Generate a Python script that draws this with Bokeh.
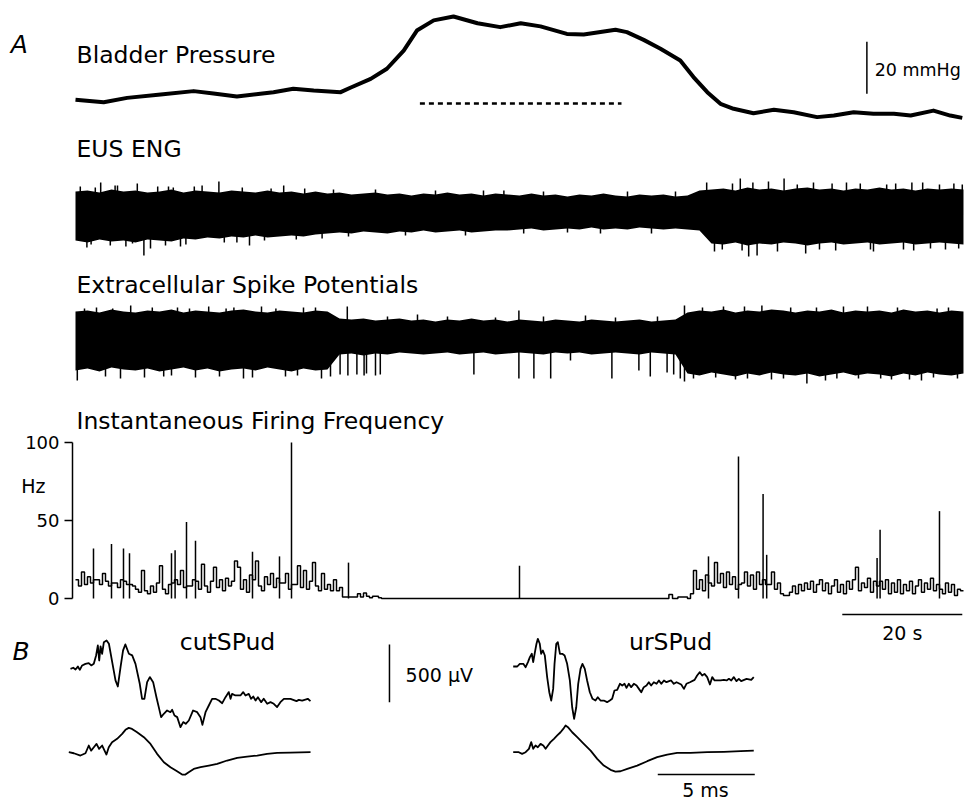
from bokeh.plotting import figure
from bokeh.models import Range1d, Label, FixedTicker, LinearAxis
from bokeh.layouts import column
from bokeh.embed import file_html
from bokeh.resources import INLINE

FONT = "DejaVu Sans"
W = 970

# ---------------- A: bladder pressure (s, mmHg) ----------------
pres_t = [0, 4.7, 8.6, 14.2, 19.7, 23.0, 26.9, 30.8, 33.0, 36.3, 39.7, 44.2, 45.8, 49.2,
          51.9, 54.7, 56.9, 59.7, 63.0, 67.0, 70.8, 74.2, 77.5, 81.9, 84.7, 87.5, 90.0,
          91.9, 94.7, 97.5, 100.8, 103.0, 105.3, 107.5, 109.7, 113.0, 116.4, 119.7,
          123.6, 126.4, 129.7, 133.0, 136.4, 139.2, 143.0, 145.8, 147.8]
pres_mmHg = [8.0, 7.0, 8.7, 10.0, 11.3, 10.4, 9.2, 10.3, 10.9, 12.2, 11.5, 10.9, 12.6, 16.0,
             19.9, 26.9, 34.6, 38.5, 40.0, 37.4, 35.9, 37.4, 36.2, 33.3, 33.1, 34.0, 34.9,
             34.0, 31.0, 27.6, 23.1, 16.7, 10.9, 6.4, 4.5, 2.8, 4.1, 3.2,
             1.3, 1.9, 3.2, 2.6, 2.6, 1.9, 3.8, 1.9, 1.0]
void_period_s = [57.4, 91.0]

# ---------------- A: EUS ENG envelope (2-s bins, a.u.) ----------------
env_dt = 2.0
eng_top = [24, 25, 23, 26, 24, 25, 23, 24, 26, 23, 25,
           24, 23, 25, 24, 23, 25, 23, 24, 22, 24,
           22, 23, 21, 22, 23, 21, 22, 20, 22, 21, 23, 21, 22, 20, 22,
           21, 20, 22, 20, 21, 19, 21, 20, 22, 20, 19, 21, 20, 21, 19, 20, 25,
           26, 27, 25, 28, 26, 27, 25, 27, 28, 26, 27, 25, 27, 26, 28, 26, 27, 25, 27, 26, 27, 26]
eng_bot = [-25, -27, -24, -26, -25, -27, -24, -25, -26, -23, -24,
           -22, -23, -21, -22, -20, -22, -21, -20, -21, -19,
           -18, -17, -18, -16, -17, -18, -16, -17, -15, -17, -16, -15, -17, -16, -15,
           -15, -14, -13, -15, -14, -13, -14, -12, -14, -13, -14, -12, -13, -14, -13, -14, -15,
           -28, -29, -27, -30, -28, -29, -27, -28, -30, -28, -27, -29, -28, -27, -29, -28, -27, -29, -28, -27, -28, -29]
eng_spike_t = [4.2, 10.3, 21.1, 23.9, 34.7, 71.4, 110.8, 112.9, 118.1, 126.1, 130.8, 136.7, 139.4, 146.4,
               1.9, 5.8, 11.4, 12.5, 26.9, 41.1, 74.7, 87.5, 111.1, 112.2, 113.6, 121.7, 126.7, 139.7, 142.5, 147.2,
               7.0, 15.5, 29.0, 17.5, 106.5, 123.0, 133.0, 144.0,
               0.8, 2.6, 3.3, 6.6, 8.4, 9.5, 13.7, 15.0, 16.3, 18.4, 19.8, 24.8, 27.8, 31.5, 32.6, 36.8,
               38.2, 43.0, 45.5, 50.0, 55.0, 60.0, 65.0, 68.0, 78.0, 82.0, 92.0, 96.0, 100.0, 105.2,
               107.8, 109.5, 115.5, 117.0, 120.3, 124.0, 128.5, 132.5, 135.2, 138.0, 141.2, 145.0, 147.8]
eng_spike_tip = [33, 32, 30, 34, 30, 25, 37, 33, 37, 32, 32, 32, 33, 32,
                 -32, -30, -40, -33, -27, -23, -18, -18, -35, -41, -40, -38, -35, -35, -33, -33,
                 30, 29, -30, -31, -36, 33, -36, 31,
                 29, -29, 28, 30, -31, -28, 29, -30, 28, -29, 29, -27, 28, -25, 27, -24,
                 27, 26, -21, 26, -20, 25, -20, 25, 24, -17, 24, -18, 24, 33,
                 -34, 32, 34, -36, 31, -34, 33, -34, 31, -34, 33, -34, 31]

# ---------------- A: extracellular spike potentials envelope ----------------
spk_top = [29, 30, 28, 31, 29, 28, 30, 29, 31, 28, 30, 29, 28, 30, 31, 29, 28, 30, 29, 28, 30, 29,
           22, 21, 22, 20, 21, 22, 20, 21, 19, 21, 20, 22, 20, 21, 19, 21, 20, 19, 21, 20, 19, 21,
           20, 19, 20, 21, 19, 20, 21,
           28, 30, 29, 31, 28, 30, 29, 31, 30, 28, 30, 29, 31, 28, 30, 29, 30, 28, 31, 29, 30, 28, 30, 29]
spk_bot = [-30, -28, -31, -27, -29, -30, -28, -31, -29, -27, -30, -28, -31, -29, -28, -30, -27, -29, -31, -28, -30, -29,
           -14, -13, -15, -13, -14, -12, -13, -14, -13, -12, -14, -13, -12, -14, -13, -12, -13, -14, -12, -13, -12, -14,
           -13, -12, -13, -14, -12, -13, -14,
           -33, -35, -32, -34, -36, -33, -35, -32, -34, -35, -33, -36, -34, -32, -35, -33, -34, -36, -33, -35, -32, -34, -35, -33]
spk_spike_t = [9.2, 22.2, 26.4, 45.3, 73.9, 101.5, 114.4, 119.2, 137.0, 143.6, 3.5, 17.0, 31.0, 38.0, 57.0, 85.0, 108.0, 128.0,
               0.3, 7.5, 14.7, 20.0, 28.0, 35.0, 41.0, 44.1, 45.4, 46.9, 48.1, 48.5, 50.0, 50.8, 66.4, 73.9, 76.4, 79.2,
               82.5, 89.4, 93.9, 95.8, 98.6, 99.7, 100.8, 101.5, 106.7, 112.0, 121.9, 126.9, 134.2, 143.0, 116.0, 139.0,
               1.5, 5.0, 6.2, 11.5, 12.8, 16.0, 19.0, 24.0, 25.1, 29.5, 33.4, 37.0, 40.0, 42.5,
               103.0, 104.5, 110.0, 111.5, 118.0, 123.5, 125.0, 130.5, 132.0, 136.0, 141.0, 145.5, 147.0,
               52.0, 62.0, 70.0, 78.0, 90.0, 97.0]
spk_spike_tip = [35, 34, 33, 34, 30, 35, 35, 33, 33, 32, 33, 33, 34, 33, 26, 25, 34, 34,
                 -40, -38, -36, -37, -38, -36, -38, -34, -35, -34, -35, -33, -35, -34, -34, -38, -38, -38,
                 -20, -38, -30, -36, -32, -34, -38, -41, -37, -38, -43, -38, -38, -37, -39, -39,
                 32, -36, 32, -37, 33, -35, 32, -36, 32, -37, 32, -35, 33, -36,
                 -38, 33, -39, 34, -38, 33, -40, -38, 34, -39, -40, 33, -38,
                 24, 24, 23, 24, 23, 24]

# ---------------- A: instantaneous firing frequency (Hz) ----------------
freq_dt = 0.5
freq_seg1_start = 0.0
freq_seg1_hz = [12, 8, 17, 9, 14, 10, 12, 12, 9, 16, 11, 8, 10, 10, 7, 12, 11, 9, 9, 8,
                6, 4, 18, 5, 3, 8, 4, 10, 21, 6, 3, 9, 10, 12, 9, 18, 7, 8, 8, 12,
                11, 6, 22, 8, 4, 11, 20, 7, 12, 5, 13, 8, 11, 24, 20, 6, 12, 4, 15, 12,
                24, 8, 5, 14, 9, 16, 7, 13, 10, 10, 16, 6, 9, 9, 21, 7, 18, 6, 11, 23,
                8, 5, 16, 6, 9, 5, 12, 5, 7,
                1, 1, 1, 1, 1, 3, 1, 3.5, 1.5, 0.5, 1.5, 1.5, 0.5, 0]
freq_mid_t = [51.5, 98.9, 99.5, 100.4, 102.0]
freq_mid_hz = [0, 2.5, 0, 1, 0]
freq_seg2_start = 102.5
freq_seg2_hz = [3, 18, 6, 12, 5, 15, 10, 8, 23, 10, 16, 7, 17, 9, 14, 6, 9, 10, 17, 8,
                15, 6, 17, 9, 12, 9, 9, 17, 6, 10, 3, 2, 2, 4, 8, 3, 9, 5, 10, 6,
                11, 4, 9, 12, 5, 10, 3, 8, 12, 4, 9, 3, 11, 6, 12, 20, 5, 10, 7, 13,
                4, 11, 8, 11, 6, 12, 3, 10, 4, 12, 3, 9, 5, 11, 3, 8, 12, 4, 10, 6,
                13, 5, 9, 6, 3, 10, 4, 9, 2, 6, 5]
# brief high-rate intervals (single spikes of instantaneous frequency)
freq_peak_t = [3.0, 6.0, 8.0, 9.0, 16.0, 16.6, 18.5, 20.0, 29.5, 34.0, 36.0, 45.5, 74.0,
               105.5, 110.5, 114.6, 115.2, 133.6, 134.1, 144.0]
freq_peak_hz = [32, 35, 32, 29, 29, 31, 49, 37, 30, 27, 100, 23, 21,
                27, 91, 67, 28, 26, 44, 56]
freq_ticks = [0, 50, 100]

# ---------------- B: averaged spike waveforms (ms, uV) ----------------
cut_top_ms = [0, 0.14, 0.26, 0.38, 0.48, 0.60, 0.77, 0.94, 1.07, 1.20, 1.32, 1.41, 1.48, 1.55, 1.63, 1.72,
              1.86, 1.98, 2.15, 2.32, 2.44, 2.58, 2.71, 2.83, 3.01, 3.18, 3.35, 3.57, 3.69, 3.81, 3.95,
              4.09, 4.26, 4.43, 4.55, 4.67, 4.81, 4.98, 5.15, 5.24, 5.36, 5.50, 5.67, 5.81, 5.94, 6.10,
              6.32, 6.53, 6.70, 6.80, 6.96, 7.13, 7.30, 7.47, 7.65, 7.82, 7.99, 8.16, 8.25, 8.33, 8.50,
              8.76, 8.90, 9.02, 9.19, 9.31, 9.42, 9.54, 9.66, 9.83, 9.96, 10.14, 10.31, 10.48, 10.65,
              10.82, 11.00, 11.34, 11.65, 11.77, 11.94, 12.23, 12.37]
cut_top_uV = [0, 9, -6, 20, -9, 29, 43, 49, 29, 43, 116, 202, 72, 194, 130, 231,
              246, 217, 58, -101, -153, 14, 159, 211, 130, 116, 43, -130, -260, -260, -116,
              -72, -116, -246, -332, -419, -390, -361, -376, -355, -405, -419, -506, -462, -477, -448,
              -361, -376, -419, -486, -376, -318, -260, -260, -275, -298, -246, -202, -260, -217, -231,
              -231, -202, -231, -217, -260, -240, -275, -246, -289, -260, -303, -289, -303, -332,
              -289, -260, -260, -280, -269, -275, -260, -280]
cut_bot_ms = [0, 0.26, 0.60, 0.86, 1.03, 1.15, 1.29, 1.43, 1.56, 1.72, 1.94, 2.06, 2.23, 2.49, 2.75,
              2.92, 3.09, 3.26, 3.52, 3.87, 4.21, 4.55, 4.90, 5.24, 5.58, 5.84, 6.01, 6.18, 6.44, 6.79,
              7.22, 7.65, 8.16, 8.68, 9.19, 9.71, 10.22, 10.74, 11.42, 12.46]
cut_bot_uV = [0, -9, -29, -9, 58, 14, 43, 72, 29, 58, -20, 43, 87, 116, 159,
              194, 211, 202, 173, 130, 72, -14, -87, -130, -165, -194, -194, -173, -145, -130,
              -116, -101, -72, -49, -38, -29, -14, -6, -3, 0]
ur_top_ms = [0, 0.21, 0.34, 0.52, 0.64, 0.76, 0.86, 0.96, 1.03, 1.12, 1.20, 1.27, 1.37, 1.44, 1.53,
             1.63, 1.75, 1.86, 1.96, 2.06, 2.13, 2.22, 2.30, 2.41, 2.53, 2.65, 2.78, 2.92, 3.04, 3.14,
             3.25, 3.35, 3.47, 3.57, 3.69, 3.81, 3.95, 4.09, 4.24, 4.36, 4.50, 4.67, 4.84, 4.98, 5.10,
             5.22, 5.36, 5.50, 5.62, 5.74, 5.84, 5.96, 6.08, 6.22, 6.36, 6.48, 6.60, 6.73, 6.87, 6.99,
             7.11, 7.25, 7.39, 7.51, 7.63, 7.77, 7.90, 8.14, 8.28, 8.42, 8.66, 8.80, 8.93, 9.11, 9.35,
             9.48, 9.62, 9.74, 9.86, 10.00, 10.14, 10.26, 10.38, 10.69, 10.86, 11.00, 11.12, 11.24,
             11.37, 11.51, 11.63, 11.75, 12.03, 12.27, 12.40]
ur_top_uV = [0, 0, 23, 23, -6, 38, 81, 110, 38, 124, 197, 240, 197, 110, 139,
             95, -92, -223, -295, -194, 23, 197, 211, 110, 110, 95, 23, -121, -353, -454,
             -353, -150, -20, 23, -20, -121, -223, -280, -295, -266, -295, -295, -309, -295, -280,
             -208, -202, -150, -165, -150, -185, -150, -179, -150, -165, -194, -223, -179, -165, -136,
             -165, -136, -150, -121, -150, -121, -136, -121, -150, -136, -156, -194, -150, -136, -116,
             -78, -49, -78, -64, -92, -156, -92, -121, -121, -116, -121, -107, -121,
             -92, -127, -107, -127, -107, -116, -92]
ur_bot_ms = [0, 0.29, 0.46, 0.64, 0.81, 0.93, 1.03, 1.15, 1.27, 1.41, 1.55, 1.67, 1.79, 1.92, 2.10,
             2.27, 2.44, 2.58, 2.70, 2.82, 3.04, 3.30, 3.64, 3.99, 4.33, 4.67, 5.02, 5.27, 5.53, 5.88,
             6.39, 6.91, 7.42, 7.94, 8.45, 9.14, 10.00, 10.86, 11.72, 12.40]
ur_bot_uV = [0, 0, -14, 0, 29, 87, 29, 58, 43, 72, 58, 29, 58, 87, 116,
             145, 173, 202, 231, 217, 173, 130, 72, 14, -58, -116, -153, -168, -165, -145,
             -116, -78, -43, -20, -6, -6, 0, 3, 9, 14]


def base_fig(height, xr, yr, border_left=0, yaxis=None):
    p = figure(width=W, height=height, x_range=xr, y_range=yr,
               output_backend="svg", toolbar_location=None,
               x_axis_location=None, y_axis_location=yaxis,
               min_border_left=border_left, min_border_right=0,
               min_border_top=0, min_border_bottom=0)
    p.frame_align = False
    p.title.visible = False
    p.grid.visible = False
    p.outline_line_color = None
    p.background_fill_color = "white"
    p.border_fill_color = "white"
    return p


def label(p, x, y, text, size, align="left", style="normal", **kw):
    p.add_layout(Label(x=x, y=y, text=text, text_font=FONT, text_font_size=size,
                       text_font_style=style, text_align=align, text_baseline="middle",
                       text_color="black", **kw))


TITLE = "23.5px"
SMALL = "19px"
sec_range = (-12.5, 149.17)

# ---- pressure panel ----
pp = base_fig(135, Range1d(*sec_range), Range1d(-5.77, 46.15))
pp.line(pres_t, pres_mmHg, line_color="black", line_width=4, line_join="round")
pp.line(void_period_s, [6.5, 6.5], line_color="black", line_width=2.5, line_dash="5 4")
pp.line([131.9, 131.9], [10.3, 30.3], line_color="black", line_width=1.5)
label(pp, 133.2, 19.5, "20 mmHg", "17.5px")
label(pp, -10.8, 29.2, "A", "25px", style="italic")
label(pp, 0.17, 25.0, "Bladder Pressure", TITLE)

env_t = [i * env_dt for i in range(len(eng_top))]

# ---- ENG panel ----
pe = base_fig(133, Range1d(*sec_range), Range1d(-53, 80))
pe.varea(x=env_t, y1=eng_bot, y2=eng_top, fill_color="black")
pe.segment(x0=eng_spike_t, y0=[0] * len(eng_spike_t), x1=eng_spike_t, y1=eng_spike_tip,
           line_color="black", line_width=1.5)
label(pe, 0.17, 67, "EUS ENG", TITLE)

# ---- spike potentials panel ----
ps = base_fig(130, Range1d(*sec_range), Range1d(-58, 72))
ps.varea(x=env_t, y1=spk_bot, y2=spk_top, fill_color="black")
ps.segment(x0=spk_spike_t, y0=[0] * len(spk_spike_t), x1=spk_spike_t, y1=spk_spike_tip,
           line_color="black", line_width=1.5)
label(ps, 0.17, 56, "Extracellular Spike Potentials", TITLE)

# ---- firing frequency panel ----
f_t = ([freq_seg1_start + i * freq_dt for i in range(len(freq_seg1_hz))] + freq_mid_t +
       [freq_seg2_start + i * freq_dt for i in range(len(freq_seg2_hz))] + [148.0])
f_hz = freq_seg1_hz + freq_mid_hz + freq_seg2_hz + [freq_seg2_hz[-1]]
pf = base_fig(222, Range1d(-0.5, 149.17), Range1d(-14.1, 128.2), border_left=72, yaxis="left")
pf.step(f_t, f_hz, mode="after", line_color="black", line_width=1.5)
pf.segment(x0=freq_peak_t, y0=[0] * len(freq_peak_t), x1=freq_peak_t, y1=freq_peak_hz,
           line_color="black", line_width=1.5)
ax = pf.yaxis[0]
ax.ticker = FixedTicker(ticks=freq_ticks)
ax.bounds = (0, 100)
ax.axis_line_width = 1.5
ax.axis_line_color = "black"
ax.major_tick_line_width = 1.5
ax.major_tick_line_color = "black"
ax.major_tick_out = 8
ax.major_tick_in = 0
ax.minor_tick_out = 0
ax.minor_tick_in = 0
ax.major_label_standoff = 5
ax.major_label_text_font = FONT
ax.major_label_text_font_size = "18px"
ax.major_label_text_color = "black"
hz_ax = LinearAxis(ticker=FixedTicker(ticks=[72.4]), major_label_overrides={72.4: "Hz"},
                   axis_line_color=None, major_tick_line_color=None, minor_tick_line_color=None,
                   major_tick_out=0, major_tick_in=0, minor_tick_out=0, minor_tick_in=0,
                   major_label_standoff=-23, major_label_text_font=FONT,
                   major_label_text_font_size=SMALL, major_label_text_color="black")
pf.add_layout(hz_ax, "left")
pf.line([127.8, 147.8], [-10.3, -10.3], line_color="black", line_width=1.5)
label(pf, 0.17, 114, "Instantaneous Firing Frequency", TITLE)

# ---- B panel (ms, uV) ----
pb = base_fig(180, Range1d(0, 50.0), Range1d(-1559.8, 0))
pb.extra_x_ranges = {"sec": Range1d(*sec_range)}


def trace(p, ms, uv, x0, y0):
    p.line([x0 + t for t in ms], [y0 + v for v in uv], line_color="black", line_width=1.8,
           line_join="round")


trace(pb, cut_top_ms, cut_top_uV, 3.608, -418.5)
trace(pb, cut_bot_ms, cut_bot_uV, 3.521, -1141.3)
trace(pb, ur_top_ms, ur_top_uV, 26.428, -398.6)
trace(pb, ur_bot_ms, ur_bot_uV, 26.428, -1141.3)
pb.line([20.05, 20.05], [-708, -208], line_color="black", line_width=1.5)
label(pb, 20.88, -476.6, "500 µV", SMALL)
pb.line([33.88, 38.88], [-1334.5, -1334.5], line_color="black", line_width=1.5)
label(pb, 36.34, -1473, "5 ms", SMALL, align="center")
label(pb, 11.70, -190.6, "cutSPud", TITLE, align="center")
label(pb, 34.54, -190.6, "urSPud", TITLE, align="center")
label(pb, 0.62, -268.6, "B", "25px", style="italic")
label(pb, 137.8, -104, "20 s", SMALL, align="center", x_range_name="sec")

layout = column(pp, pe, ps, pf, pb, spacing=0)
open("out.html", "w").write(file_html(layout, INLINE))
